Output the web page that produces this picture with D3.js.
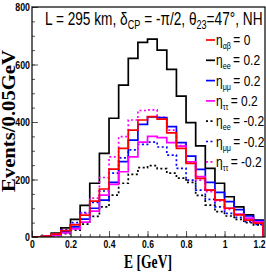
<!DOCTYPE html>
<html>
<head>
<meta charset="utf-8">
<script src="https://cdn.jsdelivr.net/npm/d3@7"></script>
<style>
  body { margin: 0; background: #fff; }
  svg { display: block; }
  .sans { font-family: "Liberation Sans", Arial, Helvetica, sans-serif; }
</style>
</head>
<body>
<div id="chart"></div>
<script>
// bin lower edges in GeV (0.05 GeV bins)
var binLo = [0, 0.05, 0.1, 0.15, 0.2, 0.25, 0.3, 0.35, 0.4, 0.45, 0.5, 0.55,
             0.6, 0.65, 0.7, 0.75, 0.8, 0.85, 0.9, 0.95, 1.0, 1.05, 1.1, 1.15];
var binHi = 1.2;

// events per bin
var etaAB0   = [0.5, 3, 10, 22, 42, 76, 125, 167, 236, 308, 372, 407, 419, 410, 362, 308, 256, 204, 163, 129, 100, 77, 59, 48];
var etaEEp   = [0, 2, 14, 32, 61, 110, 187, 291, 413, 528, 621, 677, 688, 650, 583, 490, 398, 317, 239, 187, 140, 105, 77, 59];
var etaMMp   = [0.5, 2.5, 8, 18, 35, 62, 100, 128, 190, 262, 337, 392, 418, 415, 384, 328, 281, 235, 190, 155, 123, 95, 73, 57];
var etaTTp   = [0.3, 2, 6, 14, 28, 52, 90, 146, 183, 227, 279, 330, 350, 346, 328, 316, 261, 210, 163, 129, 100, 80, 66, 53];
var etaEEm   = [0, 1, 5, 12, 24, 45, 72, 105, 146, 187, 218, 241, 248, 238, 222, 205, 190, 145, 111, 88, 73, 61, 50, 42];
var etaMMm   = [0.5, 3, 11, 25, 50, 85, 120, 160, 222, 275, 303, 322, 330, 313, 285, 239, 198, 163, 131, 105, 82, 68, 53, 44];
var etaTTm   = [0.5, 3, 10, 22, 44, 82, 135, 207, 279, 349, 407, 440, 442, 416, 372, 318, 258, 198, 158, 126, 96, 77, 61, 50];

var xTicks = [0, 0.2, 0.4, 0.6, 0.8, 1, 1.2];
var xTickLabels = ["0", "0.2", "0.4", "0.6", "0.8", "1", "1.2"];
var yTicks = [0, 200, 400, 600, 800];

var series = [
  { name: "αβ", val: "= 0",    data: etaAB0, color: "#ff0000", dash: null },
  { name: "ee", val: "= 0.2",  data: etaEEp, color: "#000000", dash: null },
  { name: "μμ", val: "= 0.2",  data: etaMMp, color: "#0000ff", dash: null },
  { name: "ττ", val: "= 0.2",  data: etaTTp, color: "#ff00ff", dash: null },
  { name: "ee", val: "= -0.2", data: etaEEm, color: "#000000", dash: "2,2.5" },
  { name: "μμ", val: "= -0.2", data: etaMMm, color: "#0000ff", dash: "2,2.5" },
  { name: "ττ", val: "= -0.2", data: etaTTm, color: "#ff00ff", dash: "2,2.5" }
];

var w = 266, h = 273;
var pLeft = 32, pRight = 265, pTop = 7, pBottom = 237;

var svg = d3.select("#chart").append("svg")
  .attr("width", w).attr("height", h);

var x = d3.scaleLinear().domain([0, 1.21]).range([pLeft, pRight]);
var y = d3.scaleLinear().domain([0, 800]).range([pBottom, pTop]);

svg.append("clipPath").attr("id", "clip")
  .append("rect").attr("x", pLeft).attr("y", pTop)
  .attr("width", pRight - pLeft).attr("height", pBottom - pTop);

// histograms
var line = d3.line()
  .x(function(d) { return x(d[0]); })
  .y(function(d) { return y(d[1]); })
  .curve(d3.curveStepAfter);

function steps(vals) {
  var pts = [[0, 0]];
  vals.forEach(function(v, i) { pts.push([binLo[i], v]); });
  pts.push([binHi, vals[vals.length - 1]]);
  pts.push([binHi, 0]);
  return pts;
}

var drawOrder = [1, 4, 5, 6, 2, 3, 0];
drawOrder.forEach(function(k) {
  var s = series[k];
  svg.append("path")
    .attr("clip-path", "url(#clip)")
    .attr("d", line(steps(s.data)))
    .attr("fill", "none")
    .attr("stroke", s.color)
    .attr("stroke-width", 1.7)
    .attr("stroke-dasharray", s.dash);
});

// axes with inward ticks
var xMinor = d3.axisBottom(x).tickValues(d3.range(0, 1.201, 0.05)).tickSize(-3).tickFormat("");
var xMajor = d3.axisBottom(x).tickValues(xTicks).tickSize(-6)
  .tickFormat(function(d, i) { return xTickLabels[i]; });
var yMinor = d3.axisLeft(y).tickValues(d3.range(0, 801, 50)).tickSize(-3).tickFormat("");
var yMajor = d3.axisLeft(y).tickValues(yTicks).tickSize(-6);

[xMinor, xMajor].forEach(function(a) {
  svg.append("g").attr("class", "xax").attr("transform", "translate(0," + pBottom + ")").call(a);
});
[yMinor, yMajor].forEach(function(a) {
  svg.append("g").attr("class", "yax").attr("transform", "translate(" + pLeft + ",0)").call(a);
});
svg.selectAll(".domain").remove();
svg.selectAll(".tick line").attr("stroke", "#555").attr("stroke-width", 1);
svg.selectAll(".tick text")
  .attr("class", "sans")
  .attr("font-size", "11px")
  .attr("font-weight", "bold")
  .attr("fill", "#000");
svg.selectAll(".xax .tick text")
  .attr("y", 0).attr("dy", 0)
  .attr("transform", function(d) {
    return "translate(" + (d === 1.2 ? -4 : 0) + ",11) scale(0.78,1)";
  });
svg.selectAll(".yax .tick text")
  .attr("x", 0).attr("dy", "0.35em")
  .attr("transform", "translate(-2,0) scale(0.8,1)");

// frame
svg.append("rect")
  .attr("x", pLeft).attr("y", pTop)
  .attr("width", pRight - pLeft).attr("height", pBottom - pTop)
  .attr("fill", "none").attr("stroke", "#000").attr("stroke-width", 1.2);

// title
var title = svg.append("text").attr("class", "sans")
  .attr("transform", "translate(45,25) scale(0.76,1)")
  .attr("font-size", "18px").attr("fill", "#000");
title.append("tspan").text("L = 295 km, δ");
title.append("tspan").attr("font-size", "12px").attr("dy", 4).text("CP");
title.append("tspan").attr("dy", -4).text(" = -π/2, θ");
title.append("tspan").attr("font-size", "12px").attr("dy", 4).text("23");
title.append("tspan").attr("dy", -4).text("=47°, NH");

// axis labels
svg.append("text")
  .attr("x", 148).attr("y", 268)
  .attr("text-anchor", "middle")
  .attr("font-family", "Liberation Serif, Times New Roman, serif")
  .attr("font-size", "18px").attr("font-weight", "bold")
  .attr("textLength", 48).attr("lengthAdjust", "spacingAndGlyphs")
  .text("E [GeV]");

svg.append("text")
  .attr("transform", "translate(15,121) rotate(-90)")
  .attr("text-anchor", "middle")
  .attr("font-family", "Liberation Serif, Times New Roman, serif")
  .attr("font-size", "18px").attr("font-weight", "bold")
  .attr("textLength", 142).attr("lengthAdjust", "spacingAndGlyphs")
  .text("Events/0.05GeV");

// legend
var legend = svg.append("g");
series.forEach(function(s, i) {
  var ly = 40 + i * 20.3;
  legend.append("line")
    .attr("x1", 206).attr("x2", 215).attr("y1", ly).attr("y2", ly)
    .attr("stroke", s.color).attr("stroke-width", 1.7)
    .attr("stroke-dasharray", s.dash);
  var t = legend.append("text").attr("class", "sans")
    .attr("transform", "translate(216," + (ly + 5) + ") scale(0.8,1)")
    .attr("font-size", "15px").attr("fill", "#000");
  t.append("tspan").text("η");
  t.append("tspan").attr("font-size", "9px").attr("dy", 4).text(s.name);
  t.append("tspan").attr("dy", -4).attr("dx", 3).text(s.val);
});
</script>
</body>
</html>
